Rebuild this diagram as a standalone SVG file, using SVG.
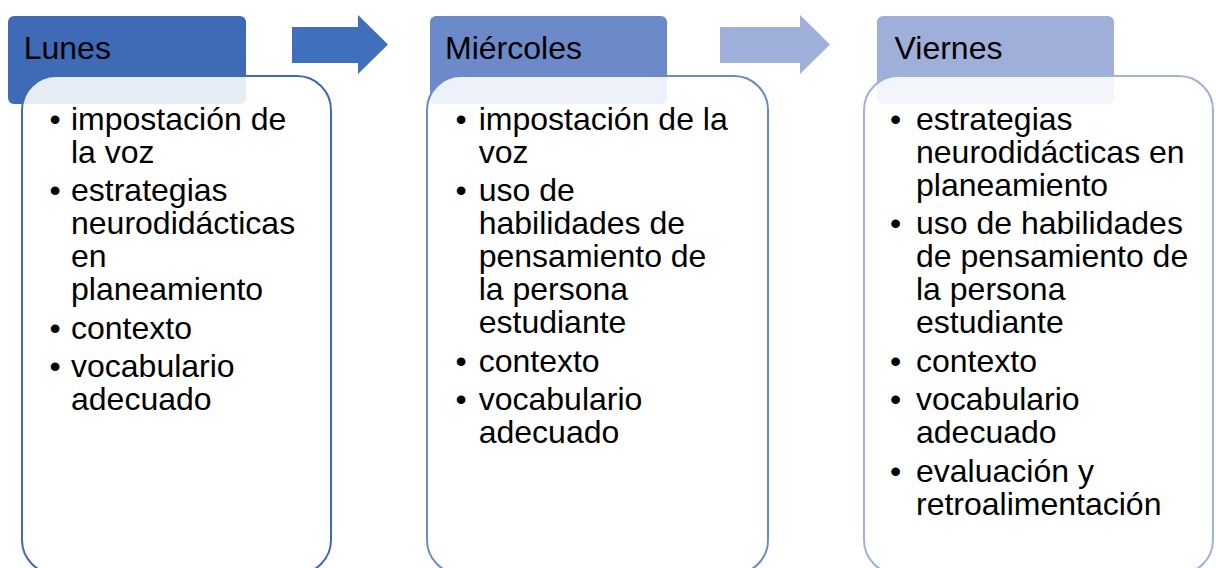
<svg xmlns="http://www.w3.org/2000/svg" width="1216" height="568" viewBox="0 0 1216 568">
<style>
  .hdr-text { font-family: "Liberation Sans", Arial, sans-serif; font-size: 32px; fill: #000; }
  .body-text { font-family: "Liberation Sans", Arial, sans-serif; font-size: 32px; fill: #000; }
  .body { fill: #ffffff; fill-opacity: 0.88; stroke-width: 2; }
</style>
<rect width="1216" height="568" fill="#ffffff"/>
<g id="connectors">
  <polygon points="292,27 358,27 358,15 388,44.5 358,74 358,63 292,63" fill="#4070BC"/>
  <polygon points="720,27 800,27 800,15 830,44.5 800,74 800,63 720,63" fill="#9FB0DA"/>
</g>
<g id="node-lunes">
  <rect x="8" y="16" width="238" height="88" rx="6" fill="#3F6AB5"/>
  <rect class="body" x="22" y="76" width="309" height="498" rx="34" stroke="#3F6AB5"/>
  <text class="hdr-text" x="23.7" y="59.3">Lunes</text>
  <text class="body-text">
    <tspan x="49.5" y="129.5">•</tspan><tspan x="71" y="129.5">impostación de</tspan>
    <tspan x="71" y="162.5">la voz</tspan>
    <tspan x="49.5" y="201">•</tspan><tspan x="71" y="201">estrategias</tspan>
    <tspan x="71" y="234">neurodidácticas</tspan>
    <tspan x="71" y="267">en</tspan>
    <tspan x="71" y="300">planeamiento</tspan>
    <tspan x="49.5" y="338.5">•</tspan><tspan x="71" y="338.5">contexto</tspan>
    <tspan x="49.5" y="377">•</tspan><tspan x="71" y="377">vocabulario</tspan>
    <tspan x="71" y="410">adecuado</tspan>
  </text>
</g>
<g id="node-miercoles">
  <rect x="430" y="16" width="237" height="88" rx="6" fill="#6C8ACA"/>
  <rect class="body" x="427" y="76" width="341" height="498" rx="34" stroke="#6C8ACA"/>
  <text class="hdr-text" x="445" y="59.3">Miércoles</text>
  <text class="body-text">
    <tspan x="455.5" y="129.5">•</tspan><tspan x="478.7" y="129.5">impostación de la</tspan>
    <tspan x="478.7" y="162.5">voz</tspan>
    <tspan x="455.5" y="201">•</tspan><tspan x="478.7" y="201">uso de</tspan>
    <tspan x="478.7" y="234">habilidades de</tspan>
    <tspan x="478.7" y="267">pensamiento de</tspan>
    <tspan x="478.7" y="300">la persona</tspan>
    <tspan x="478.7" y="333">estudiante</tspan>
    <tspan x="455.5" y="371.5">•</tspan><tspan x="478.7" y="371.5">contexto</tspan>
    <tspan x="455.5" y="410">•</tspan><tspan x="478.7" y="410">vocabulario</tspan>
    <tspan x="478.7" y="443">adecuado</tspan>
  </text>
</g>
<g id="node-viernes">
  <rect x="877" y="16" width="237" height="88" rx="6" fill="#9FAFD9"/>
  <rect class="body" x="864" y="76" width="349" height="498" rx="34" stroke="#A0B0DA"/>
  <text class="hdr-text" x="894.5" y="59.3">Viernes</text>
  <text class="body-text">
    <tspan x="890" y="129.5">•</tspan><tspan x="916" y="129.5">estrategias</tspan>
    <tspan x="916" y="162.5">neurodidácticas en</tspan>
    <tspan x="916" y="195.5">planeamiento</tspan>
    <tspan x="890" y="234">•</tspan><tspan x="916" y="234">uso de habilidades</tspan>
    <tspan x="916" y="267">de pensamiento de</tspan>
    <tspan x="916" y="300">la persona</tspan>
    <tspan x="916" y="333">estudiante</tspan>
    <tspan x="890" y="371.5">•</tspan><tspan x="916" y="371.5">contexto</tspan>
    <tspan x="890" y="410">•</tspan><tspan x="916" y="410">vocabulario</tspan>
    <tspan x="916" y="443">adecuado</tspan>
    <tspan x="890" y="481.5">•</tspan><tspan x="916" y="481.5">evaluación y</tspan>
    <tspan x="916" y="514.5">retroalimentación</tspan>
  </text>
</g>
</svg>
